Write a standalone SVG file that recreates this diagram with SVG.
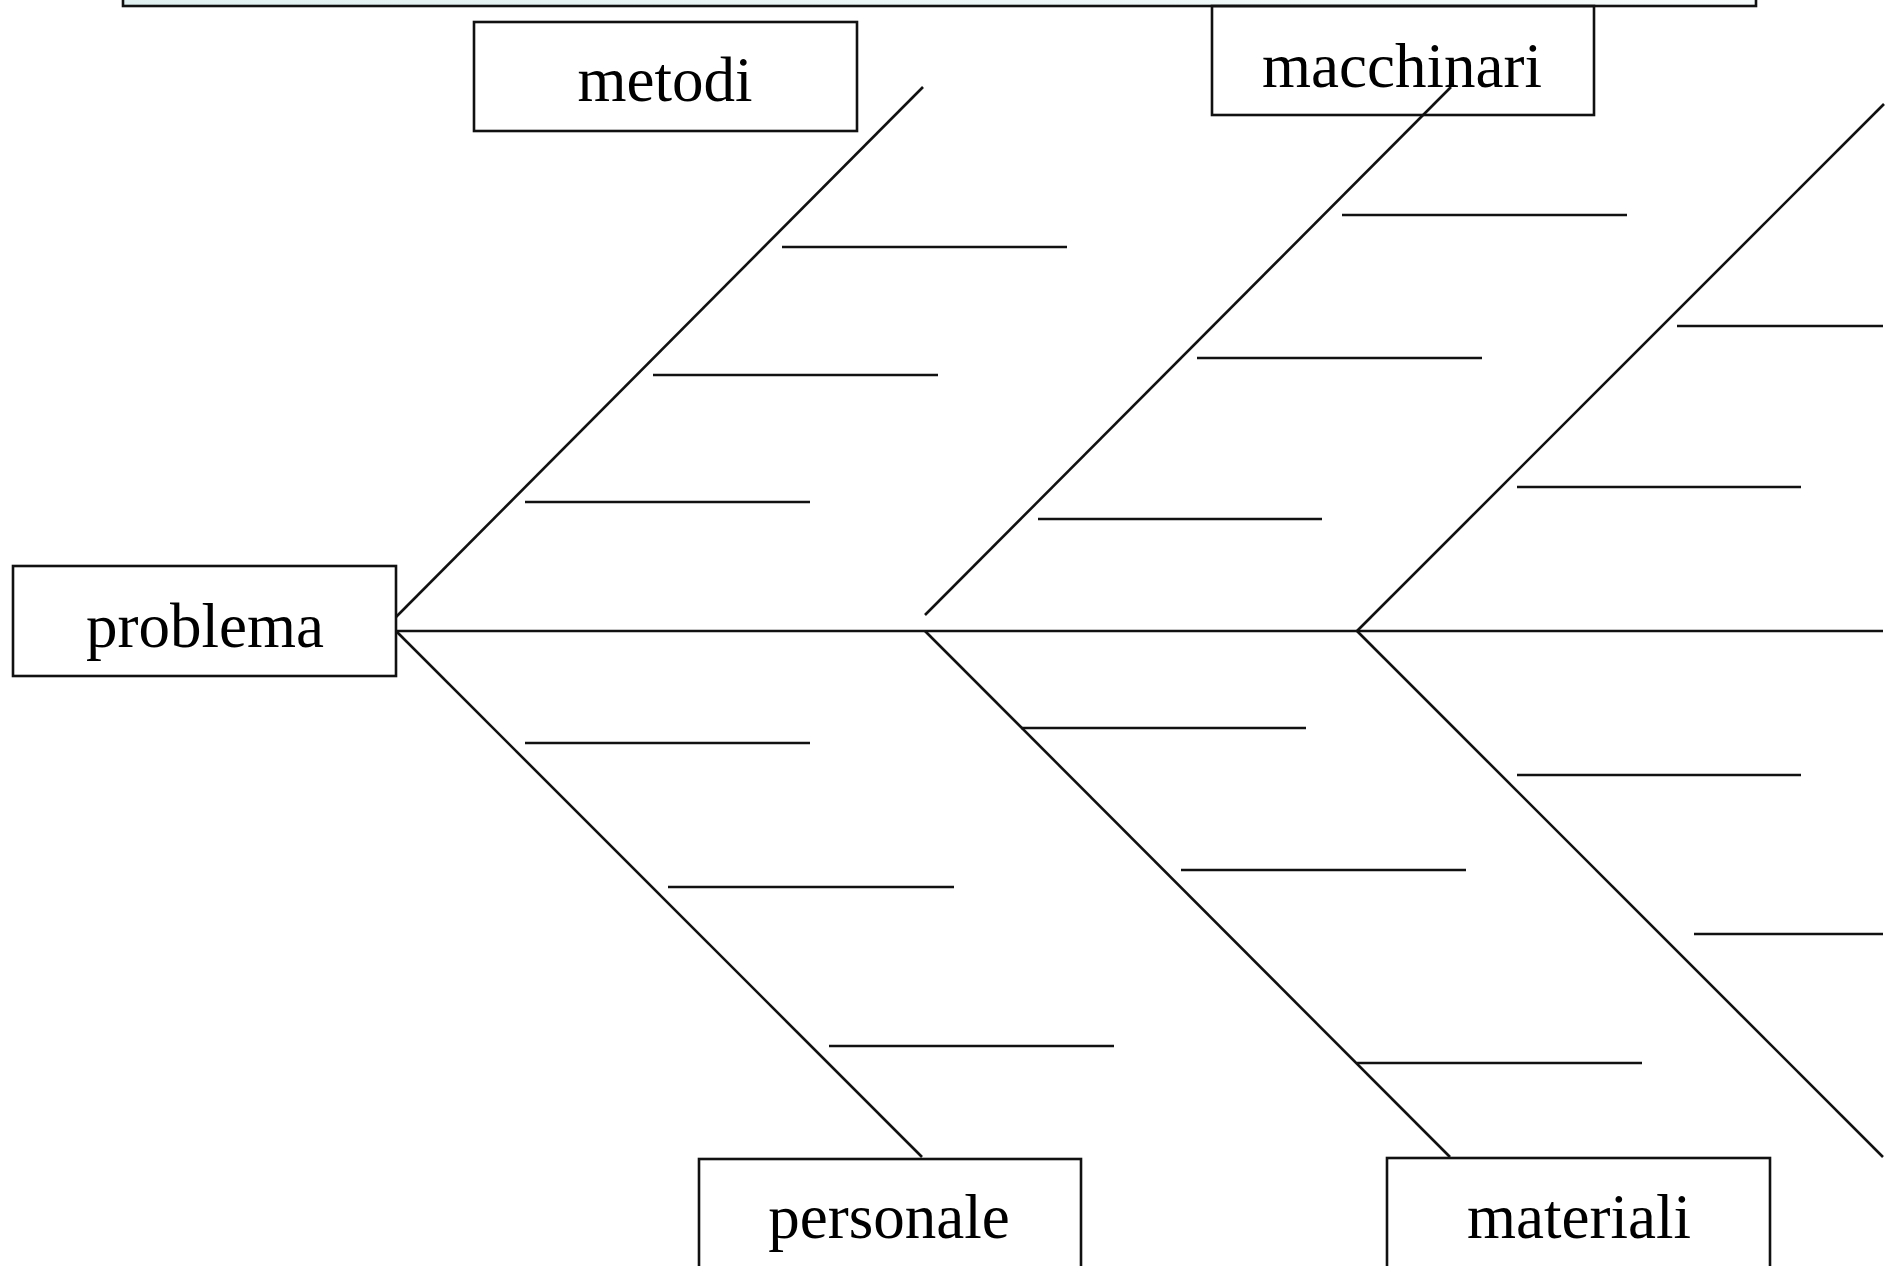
<svg xmlns="http://www.w3.org/2000/svg" width="1892" height="1266" viewBox="0 0 1892 1266">
  <style>
    .box { fill: #ffffff; stroke: #111111; stroke-width: 2.6; }
    .label { font-family: "Liberation Serif", "Times New Roman", serif; font-size: 63px; fill: #000000; text-anchor: middle; }
    .bone { stroke: #111111; stroke-width: 2.6; fill: none; stroke-linecap: butt; }
  </style>
  <defs>
    <linearGradient id="titleFill" x1="0" y1="0" x2="1" y2="0">
      <stop offset="0" stop-color="#e0f0f0"/>
      <stop offset="1" stop-color="#f6fbfb"/>
    </linearGradient>
  </defs>

  <rect width="1892" height="1266" fill="#ffffff"/>

  <!-- title banner, mostly above the visible area -->
  <g id="title-banner">
    <rect x="123" y="-30" width="1633" height="36" fill="url(#titleFill)" stroke="#111111" stroke-width="2.6"/>
  </g>

  <!-- fishbone skeleton: spine, main bones and ribs -->
  <g id="connectors">
    <line class="bone" x1="396" y1="631" x2="1883" y2="631"/>

    <!-- main bones -->
    <line class="bone" x1="396" y1="617" x2="923" y2="87"/>
    <line class="bone" x1="396" y1="631" x2="922" y2="1157"/>
    <line class="bone" x1="925" y1="615" x2="1451" y2="87"/>
    <line class="bone" x1="925" y1="631" x2="1450" y2="1157"/>
    <line class="bone" x1="1357" y1="631" x2="1884" y2="104"/>
    <line class="bone" x1="1357" y1="631" x2="1883" y2="1157"/>

    <!-- ribs: metodi -->
    <line class="bone" x1="782" y1="247" x2="1067" y2="247"/>
    <line class="bone" x1="653" y1="375" x2="938" y2="375"/>
    <line class="bone" x1="525" y1="502" x2="810" y2="502"/>

    <!-- ribs: personale -->
    <line class="bone" x1="525" y1="743" x2="810" y2="743"/>
    <line class="bone" x1="668" y1="887" x2="954" y2="887"/>
    <line class="bone" x1="829" y1="1046" x2="1114" y2="1046"/>

    <!-- ribs: macchinari -->
    <line class="bone" x1="1342" y1="215" x2="1627" y2="215"/>
    <line class="bone" x1="1197" y1="358" x2="1482" y2="358"/>
    <line class="bone" x1="1038" y1="519" x2="1322" y2="519"/>

    <!-- ribs: materiali -->
    <line class="bone" x1="1021" y1="728" x2="1306" y2="728"/>
    <line class="bone" x1="1181" y1="870" x2="1466" y2="870"/>
    <line class="bone" x1="1357" y1="1063" x2="1642" y2="1063"/>

    <!-- ribs: right-hand bones -->
    <line class="bone" x1="1677" y1="326" x2="1883" y2="326"/>
    <line class="bone" x1="1517" y1="487" x2="1801" y2="487"/>
    <line class="bone" x1="1517" y1="775" x2="1801" y2="775"/>
    <line class="bone" x1="1694" y1="934" x2="1883" y2="934"/>
  </g>

  <!-- category boxes -->
  <g id="node-problema">
    <rect class="box" x="13" y="566" width="383" height="110"/>
    <text class="label" x="205" y="647">problema</text>
  </g>

  <g id="node-metodi">
    <rect class="box" x="474" y="22" width="383" height="109"/>
    <text class="label" x="665" y="101">metodi</text>
  </g>

  <g id="node-personale">
    <rect class="box" x="699" y="1159" width="382" height="120"/>
    <text class="label" x="889" y="1238">personale</text>
  </g>

  <g id="node-materiali">
    <rect class="box" x="1387" y="1158" width="383" height="120"/>
    <text class="label" x="1579" y="1238">materiali</text>
  </g>

  <g id="node-macchinari">
    <rect class="box" x="1212" y="6" width="382" height="109" fill-opacity="0"/>
    <text class="label" x="1402" y="87">macchinari</text>
  </g>
</svg>
